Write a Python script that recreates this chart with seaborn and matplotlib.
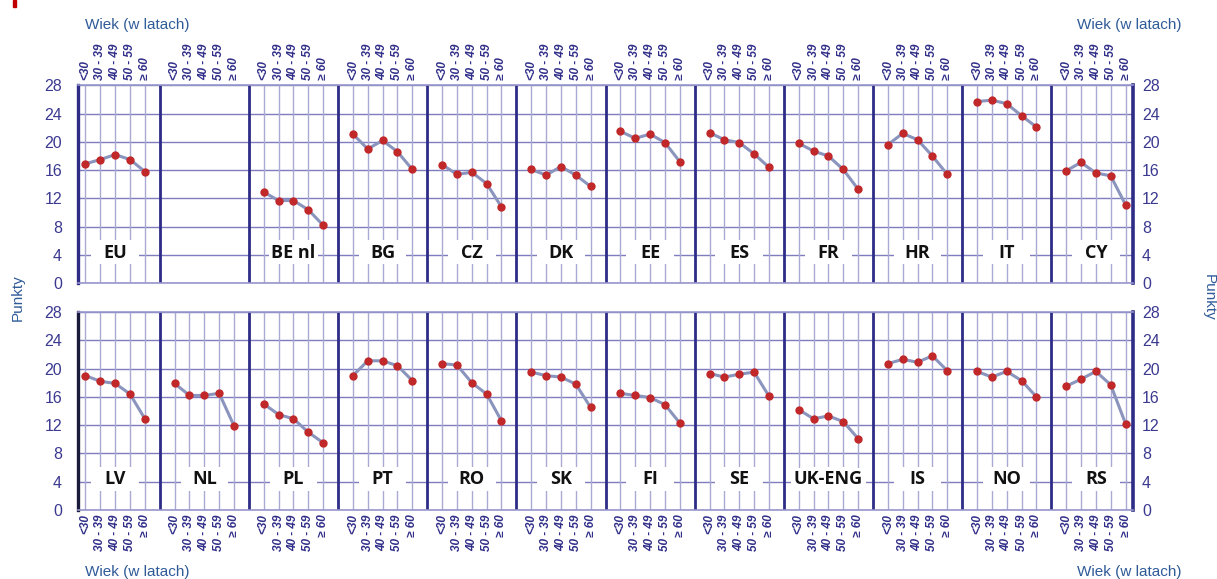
import numpy as np
import pandas as pd
import matplotlib
matplotlib.use("Agg")
import matplotlib.pyplot as plt
from matplotlib import font_manager
from matplotlib.patches import Rectangle
import seaborn as sns

# ---- data -------------------------------------------------------------
age_groups = ["<30", "30 - 39", "40 - 49", "50 - 59", "\u2265 60"]

top_countries = ["EU", "", "BE nl", "BG", "CZ", "DK", "EE", "ES", "FR", "HR", "IT", "CY"]
bottom_countries = ["LV", "NL", "PL", "PT", "RO", "SK", "FI", "SE", "UK-ENG", "IS", "NO", "RS"]

eu = [16.9, 17.5, 18.2, 17.5, 15.8]
be_nl = [12.9, 11.7, 11.7, 10.4, 8.2]
bg = [21.1, 19.0, 20.2, 18.6, 16.1]
cz = [16.8, 15.4, 15.7, 14.1, 10.8]
dk = [16.1, 15.3, 16.5, 15.3, 13.7]
ee = [21.5, 20.5, 21.1, 19.9, 17.2]
es = [21.3, 20.3, 19.9, 18.3, 16.4]
fr = [19.8, 18.7, 18.0, 16.1, 13.3]
hr = [19.6, 21.2, 20.3, 18.0, 15.4]
it = [25.7, 25.9, 25.4, 23.7, 22.1]
cy = [15.9, 17.1, 15.6, 15.2, 11.1]

lv = [19.0, 18.2, 17.9, 16.4, 12.9]
nl = [17.9, 16.2, 16.2, 16.5, 11.9]
pl = [15.0, 13.5, 12.9, 11.0, 9.5]
pt = [19.0, 21.1, 21.1, 20.4, 18.3]
ro = [20.7, 20.5, 18.0, 16.4, 12.6]
sk = [19.5, 19.0, 18.8, 17.8, 14.5]
fi = [16.5, 16.2, 15.9, 14.9, 12.3]
se = [19.3, 18.8, 19.2, 19.5, 16.1]
uk_eng = [14.2, 12.9, 13.3, 12.5, 10.1]
is_ = [20.7, 21.3, 20.9, 21.8, 19.7]
no = [19.6, 18.8, 19.6, 18.3, 16.0]
rs = [17.5, 18.5, 19.6, 17.7, 12.2]

scores = {
    "EU": eu, "BE nl": be_nl, "BG": bg, "CZ": cz, "DK": dk, "EE": ee, "ES": es,
    "FR": fr, "HR": hr, "IT": it, "CY": cy,
    "LV": lv, "NL": nl, "PL": pl, "PT": pt, "RO": ro, "SK": sk, "FI": fi,
    "SE": se, "UK-ENG": uk_eng, "IS": is_, "NO": no, "RS": rs,
}

y_ticks = list(range(0, 29, 4))
axis_title = "Wiek (w latach)"
value_title = "Punkty"

# ---- styling -----------------------------------------------------------
sns.set_style("white")
names = {f.name for f in font_manager.fontManager.ttflist}
if "Liberation Sans Narrow" in names:
    tick_family = ["Liberation Sans Narrow", "DejaVu Sans"]
    ytick_size, xtick_size, title_size = 12, 10, 12.5
else:
    tick_family = ["Liberation Sans", "DejaVu Sans"]
    ytick_size, xtick_size, title_size = 11.5, 8.5, 11
label_family = ["Open Sans", "DejaVu Sans"] if "Open Sans" in names else ["DejaVu Sans"]
plt.rcParams["font.family"] = tick_family

NAVY = "#2e2c86"
TICK_NAVY = "#302e88"
GRID = "#7f7dbf"
VGRID = "#aaa9d2"
LINE = "#8a94bd"
DOT = "#c0282a"
TITLE_BLUE = "#2f5b98"

SLOTS = 6  # five age groups plus one gap per panel
n_panels = 12

fig = plt.figure(figsize=(12.17, 5.79), dpi=100)
W, H = 1217, 579
ax_left, ax_width = 78 / W, 1055 / W
rows = [
    (top_countries, (579 - 283.3) / H, "top"),
    (bottom_countries, (579 - 510.0) / H, "bottom"),
]
ax_height = 198.0 / H

for row_idx, (countries, bottom, side) in enumerate(rows):
    ax = fig.add_axes([ax_left, bottom, ax_width, ax_height])

    records = []
    for p, c in enumerate(countries):
        if c in scores:
            for k, v in enumerate(scores[c]):
                records.append({"country": c, "age": age_groups[k],
                                "pos": p * SLOTS + k + 1, "score": v})
    df = pd.DataFrame(records)

    ax.set_xlim(0.5, n_panels * SLOTS - 0.5)
    ax.set_ylim(0, 28)
    ax.set_axisbelow(True)

    # horizontal grid
    ax.set_yticks(y_ticks)
    ax.grid(axis="y", color=GRID, lw=1.0)
    ax.grid(axis="x", visible=False)

    # vertical grid at each age group inside panels with data
    for p, c in enumerate(countries):
        if c:
            ax.vlines([p * SLOTS + k + 1 for k in range(5)], 0, 28,
                      color=VGRID, lw=1.0, zorder=0.6)

    # panel separators
    ax.vlines([p * SLOTS for p in range(1, n_panels)], 0, 28,
              color=NAVY, lw=2.0, zorder=3)

    # country labels on a white patch
    for p, c in enumerate(countries):
        if c:
            cx = p * SLOTS + 3
            ax.add_patch(Rectangle((cx - 1.6, 2.7), 3.2, 3.4, fc="white",
                                   ec="none", zorder=1))
            ax.text(cx, 4.35, c, ha="center", va="center", fontsize=13,
                    fontweight="bold", family=label_family, color="#111111",
                    zorder=2, bbox=dict(boxstyle="square,pad=0.15", fc="white",
                                        ec="none"))

    sns.lineplot(data=df, x="pos", y="score", units="country", estimator=None,
                 color=LINE, lw=2.2, ax=ax, legend=False, zorder=4)
    sns.scatterplot(data=df, x="pos", y="score", color=DOT, s=36,
                    edgecolor=DOT, linewidth=0, ax=ax, legend=False, zorder=5)

    # age-group tick labels
    xt = [p * SLOTS + k + 1 for p in range(n_panels) for k in range(5)]
    ax.set_xticks(xt)
    ax.set_xticklabels(age_groups * n_panels, rotation=90, fontsize=xtick_size,
                       fontweight="bold", fontstyle="italic", color=TICK_NAVY)
    if side == "top":
        ax.xaxis.set_ticks_position("top")
        ax.tick_params(axis="x", length=0, pad=3.5)
    else:
        ax.xaxis.set_ticks_position("bottom")
        ax.tick_params(axis="x", length=0, pad=3)
    ax.set_xlabel("")
    ax.set_ylabel("")

    # value axis on both sides
    ax.tick_params(axis="y", length=0, pad=11.5, labelsize=ytick_size,
                   labelcolor="#3b3990")
    sec = ax.secondary_yaxis("right")
    sec.set_yticks(y_ticks)
    sec.tick_params(length=0, pad=6.5, labelsize=ytick_size,
                    labelcolor="#3b3990")
    sec.spines["right"].set_visible(False)

    for name in ["top", "bottom"]:
        ax.spines[name].set_color("#9896cc")
        ax.spines[name].set_linewidth(1.2)
    ax.spines["left"].set_color(NAVY if side == "top" else "#1a1a3a")
    ax.spines["left"].set_linewidth(2.4)
    ax.spines["right"].set_color(NAVY)
    ax.spines["right"].set_linewidth(2.6)
    for s in ax.spines.values():
        s.set_zorder(3)

# axis titles around the figure
for (x, y) in [(85, 25), (1077, 25), (85, 572), (1077, 572)]:
    fig.text(x / W, 1 - y / H, axis_title, ha="left", va="center",
             fontsize=title_size, color=TITLE_BLUE)
fig.text(18 / W, 1 - 298 / H, value_title, ha="center", va="center",
         rotation=90, fontsize=title_size, color=TITLE_BLUE)
fig.text(1209 / W, 1 - 297 / H, value_title, ha="center", va="center",
         rotation=270, fontsize=title_size, color=TITLE_BLUE)

# small red corner mark
fig.patches.append(Rectangle((13 / W, 1 - 7 / H), 3 / W, 7 / H,
                             transform=fig.transFigure, color="#c00000"))

fig.savefig("out.png", dpi=100)
